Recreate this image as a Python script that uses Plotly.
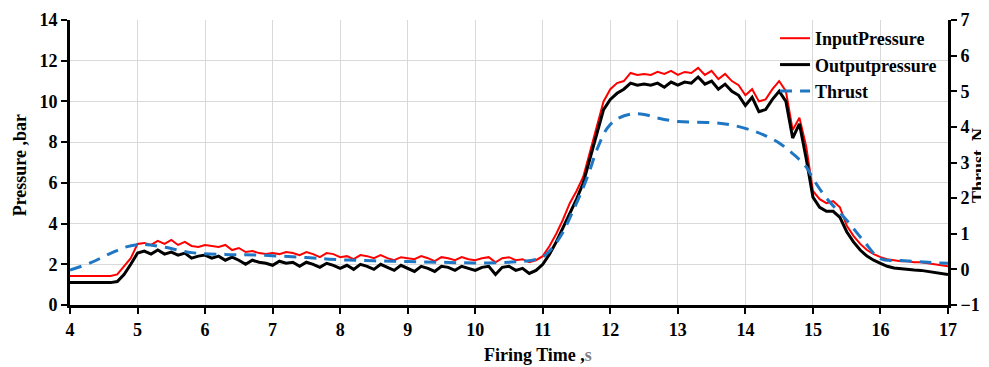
import plotly.graph_objects as go

# ---------------- data ----------------
time_p = [round(4.0 + 0.1 * i, 1) for i in range(131)]

input_pressure = [
    1.42, 1.42, 1.42, 1.42, 1.42, 1.42, 1.42, 1.5, 1.9, 2.3,            # 4.0-4.9
    3.0, 3.05, 2.95, 3.15, 3.0, 3.2, 2.95, 3.1, 2.9, 2.85,              # 5.0-5.9
    2.95, 2.9, 2.85, 2.95, 2.7, 2.8, 2.6, 2.65, 2.55, 2.5,              # 6.0-6.9
    2.55, 2.5, 2.6, 2.55, 2.45, 2.6, 2.5, 2.35, 2.55, 2.5,              # 7.0-7.9
    2.35, 2.4, 2.25, 2.45, 2.4, 2.3, 2.45, 2.3, 2.2, 2.35,              # 8.0-8.9
    2.3, 2.25, 2.4, 2.3, 2.15, 2.35, 2.3, 2.2, 2.35, 2.25,              # 9.0-9.9
    2.2, 2.3, 2.35, 2.1, 2.3, 2.35, 2.2, 2.25, 2.1, 2.2,                # 10.0-10.9
    2.4, 2.9, 3.5, 4.2, 5.0, 5.6, 6.3, 7.5, 8.8, 10.0,                  # 11.0-11.9
    10.6, 10.9, 11.0, 11.4, 11.3, 11.35, 11.3, 11.45, 11.35, 11.5,      # 12.0-12.9
    11.3, 11.45, 11.4, 11.65, 11.3, 11.5, 11.1, 11.35, 11.0, 10.8,      # 13.0-13.9
    10.3, 10.6, 10.0, 10.1, 10.6, 11.0, 10.5, 8.6, 9.2, 7.8,            # 14.0-14.9
    5.6, 5.2, 5.0, 5.1, 4.8, 3.9, 3.4, 3.0, 2.7, 2.5,                   # 15.0-15.9
    2.35, 2.25, 2.2, 2.15, 2.15, 2.1, 2.1, 2.05, 2.0, 1.95,             # 16.0-16.9
    1.9,                                                                # 17.0
]

output_pressure = [
    1.1, 1.1, 1.1, 1.1, 1.1, 1.1, 1.1, 1.15, 1.5, 2.0,                  # 4.0-4.9
    2.55, 2.65, 2.5, 2.7, 2.5, 2.6, 2.45, 2.55, 2.3, 2.4,               # 5.0-5.9
    2.45, 2.3, 2.4, 2.2, 2.35, 2.2, 2.0, 2.2, 2.1, 2.05,                # 6.0-6.9
    1.95, 2.15, 2.05, 2.1, 1.9, 2.1, 2.0, 1.85, 2.05, 1.95,             # 7.0-7.9
    1.8, 1.95, 1.75, 2.0, 1.9, 1.75, 2.0, 1.85, 1.7, 1.95,              # 8.0-8.9
    1.8, 1.65, 1.9, 1.8, 1.65, 1.9, 1.85, 1.7, 1.9, 1.8,                # 9.0-9.9
    1.7, 1.85, 1.9, 1.5, 1.85, 1.9, 1.7, 1.8, 1.55, 1.7,                # 10.0-10.9
    2.0, 2.5, 3.1, 3.8, 4.5, 5.2, 6.0, 7.2, 8.4, 9.6,                   # 11.0-11.9
    10.1, 10.4, 10.6, 10.9, 10.8, 10.85, 10.8, 10.9, 10.7, 10.95,       # 12.0-12.9
    10.8, 10.95, 10.9, 11.2, 10.85, 11.0, 10.6, 10.85, 10.5, 10.3,      # 13.0-13.9
    9.8, 10.2, 9.5, 9.6, 10.1, 10.5, 10.0, 8.2, 8.9, 7.2,               # 14.0-14.9
    5.3, 4.8, 4.6, 4.6, 4.3, 3.6, 3.1, 2.7, 2.4, 2.2,                   # 15.0-15.9
    2.05, 1.9, 1.82, 1.78, 1.75, 1.72, 1.7, 1.65, 1.6, 1.55,            # 16.0-16.9
    1.5,                                                                # 17.0
]

time_t = [4.0, 4.3, 4.6, 4.85, 5.1, 5.4, 5.8, 6.3, 6.8, 7.5, 8.0, 8.5, 9.0,
          9.5, 10.0, 10.5, 10.85, 11.0, 11.15, 11.3, 11.45, 11.6, 11.7, 11.8,
          11.95, 12.1, 12.3, 12.5, 12.7, 13.0, 13.5, 13.8, 14.1, 14.3, 14.5,
          14.7, 14.9, 15.0, 15.2, 15.5, 15.75, 16.0, 16.3, 16.7, 17.0]
thrust = [-0.02, 0.18, 0.45, 0.64, 0.7, 0.62, 0.47, 0.42, 0.4, 0.33, 0.27,
          0.24, 0.22, 0.2, 0.18, 0.2, 0.26, 0.35, 0.62, 1.05, 1.65, 2.3, 2.8,
          3.35, 3.95, 4.22, 4.36, 4.35, 4.25, 4.15, 4.12, 4.05, 3.9, 3.75,
          3.55, 3.25, 2.88, 2.55, 2.0, 1.38, 0.8, 0.3, 0.25, 0.2, 0.17]

x_ticks = list(range(4, 18))
p_ticks = list(range(0, 15, 2))
t_ticks = list(range(-1, 8))

# ---------------- figure ----------------
FONT = "Liberation Serif"
tick_font = dict(family=FONT, size=18, color="black", weight="bold")
title_font = dict(family=FONT, size=18, color="black", weight="bold")

fig = go.Figure()
fig.add_trace(go.Scatter(x=time_p, y=input_pressure, name="InputPressure",
                         mode="lines", line=dict(color="#ff0000", width=2)))
fig.add_trace(go.Scatter(x=time_p, y=output_pressure, name="Outputpressure",
                         mode="lines", line=dict(color="#000000", width=3)))
fig.add_trace(go.Scatter(x=time_t, y=thrust, name="Thrust", yaxis="y2",
                         mode="lines", line=dict(color="#1f77c4", width=3,
                                                 dash="12px,8px", shape="spline")))

# the page body adds an 8px offset, so the figure is 8px smaller and shifted
fig.update_layout(
    width=981, height=359,
    margin=dict(l=62, r=41, t=12, b=62, autoexpand=False),
    paper_bgcolor="white", plot_bgcolor="white",
    font=dict(family=FONT, size=18, color="black"),
    showlegend=True,
    legend=dict(x=0.803, y=1.0, xanchor="left", yanchor="top",
                bgcolor="rgba(0,0,0,0)", font=dict(family=FONT, size=18,
                                                   color="black", weight="bold"),
                tracegroupgap=0),
    xaxis=dict(range=[4, 17], tickvals=x_ticks, showgrid=True,
               gridcolor="#d9d9d9", gridwidth=1, showline=True,
               linecolor="black", linewidth=3, ticks="outside", ticklen=6,
               tickwidth=2, tickcolor="black", tickfont=tick_font,
               zeroline=False),
    yaxis=dict(range=[0, 14], tickvals=p_ticks, showgrid=True,
               gridcolor="#d9d9d9", gridwidth=1, showline=True,
               linecolor="black", linewidth=3, ticks="outside", ticklen=6,
               tickwidth=2, tickcolor="black", tickfont=tick_font,
               zeroline=False),
    yaxis2=dict(range=[-1, 7], tickvals=t_ticks, overlaying="y", side="right",
                showgrid=False, showline=True, linecolor="black", linewidth=3,
                ticks="outside", ticklen=6, tickwidth=2, tickcolor="black",
                tickfont=tick_font, zeroline=False),
    annotations=[
        dict(text="Pressure ,bar", xref="paper", yref="paper", x=-0.057,
             y=0.49, xanchor="center", yanchor="middle", textangle=-90,
             showarrow=False, font=title_font),
        dict(text="Thrust ,N", xref="paper", yref="paper", x=1.036,
             y=0.49, xanchor="center", yanchor="middle", textangle=-90,
             showarrow=False, font=title_font),
        dict(text="Firing Time ,<span style='color:#7f7f7f'>s</span>",
             xref="paper", yref="paper", x=0.533, y=-0.175,
             xanchor="center", yanchor="middle", showarrow=False,
             font=title_font),
    ],
)

fig.write_html("out.html")
